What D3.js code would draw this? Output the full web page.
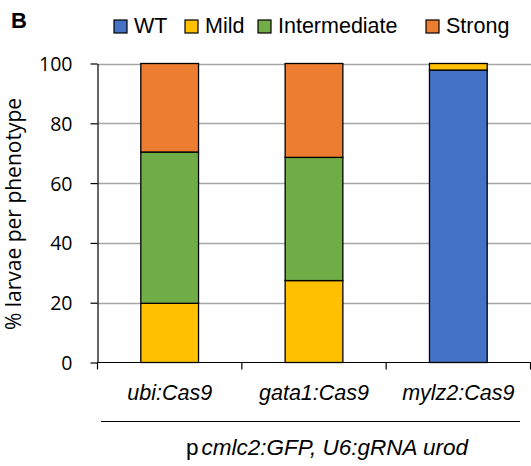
<!DOCTYPE html>
<html>
<head>
<meta charset="utf-8">
<script src="https://cdn.jsdelivr.net/npm/d3@7"></script>
<style>
body { margin: 0; background: #fff; }
svg { font-family: "Liberation Sans", Arial, sans-serif; }
</style>
</head>
<body>
<script>
let w = 531;
let h = 466;

const categories = ["ubi:Cas9", "gata1:Cas9", "mylz2:Cas9"];
const phenotypes = ["WT", "Mild", "Intermediate", "Strong"];
const colors = ["#4472c4", "#ffc000", "#70ad47", "#ed7d31"];
const wt = [0, 0, 97.8];
const mild = [19.8, 27.4, 2.2];
const intermediate = [50.6, 41.2, 0];
const strong = [29.6, 31.4, 0];
const yTicks = [0, 20, 40, 60, 80, 100];

let rows = categories.map((c, i) => ({
    cat: c, WT: wt[i], Mild: mild[i], Intermediate: intermediate[i], Strong: strong[i]
}));
let series = d3.stack().keys(phenotypes)(rows);

let svg = d3.select("body")
    .append("svg")
    .attr("width", w)
    .attr("height", h);

let x = d3.scaleBand()
    .domain(categories)
    .range([97.5, 530.5])
    .padding(0);
let y = d3.scaleLinear()
    .domain([0, 100])
    .range([362.5, 63.5]);
let color = d3.scaleOrdinal().domain(phenotypes).range(colors);

// grid lines
svg.append("g")
    .selectAll("line")
    .data(yTicks.filter(d => d > 0))
    .enter()
    .append("line")
    .attr("x1", 97.5)
    .attr("x2", 531)
    .attr("y1", d => Math.round(y(d)) + 0.5)
    .attr("y2", d => Math.round(y(d)) + 0.5)
    .attr("stroke", "#a6a6a6")
    .attr("stroke-width", 1.5);

// bars
let barW = x.bandwidth() * 0.4;
svg.append("g")
    .selectAll("g")
    .data(series)
    .enter()
    .append("g")
    .attr("fill", d => color(d.key))
    .selectAll("rect")
    .data(d => d.filter(s => s[1] - s[0] > 0))
    .enter()
    .append("rect")
    .attr("x", d => x(d.data.cat) + (x.bandwidth() - barW) / 2)
    .attr("y", d => y(d[1]))
    .attr("width", barW)
    .attr("height", d => y(d[0]) - y(d[1]))
    .attr("stroke", "#000")
    .attr("stroke-width", 1.3);

// y axis
let yAxis = svg.append("g")
    .attr("transform", "translate(97.5,0)")
    .call(d3.axisLeft(y).tickValues(yTicks).tickSize(7).tickSizeOuter(0));
yAxis.select(".domain").attr("stroke", "#000").attr("stroke-width", 1.2);
yAxis.selectAll(".tick line").attr("stroke", "#000").attr("stroke-width", 1.2);
yAxis.selectAll(".tick text")
    .attr("x", -25)
    .attr("dy", "0.36em")
    .attr("font-size", 19.5)
    .attr("font-family", "'Open Sans', sans-serif")
    .attr("fill", "#000");

// x axis
let xAxis = svg.append("g")
    .attr("transform", "translate(0,362.5)");
xAxis.append("line")
    .attr("x1", 97.5).attr("x2", 531)
    .attr("stroke", "#000").attr("stroke-width", 1.2);
xAxis.selectAll(".sep")
    .data(categories.concat(["end"]))
    .enter()
    .append("line")
    .attr("class", "sep")
    .attr("x1", (d, i) => i < 3 ? x(d) : x.range()[1])
    .attr("x2", (d, i) => i < 3 ? x(d) : x.range()[1])
    .attr("y1", 0).attr("y2", 7)
    .attr("stroke", "#000").attr("stroke-width", 1.2);
xAxis.selectAll(".lab")
    .data(categories)
    .enter()
    .append("text")
    .attr("class", "lab")
    .attr("x", d => x(d) + x.bandwidth() / 2)
    .attr("y", 37)
    .attr("text-anchor", "middle")
    .attr("font-size", 21.5)
    .attr("font-style", "italic")
    .text(d => d);

// group line and label
svg.append("line")
    .attr("x1", 101).attr("x2", 520)
    .attr("y1", 421.5).attr("y2", 421.5)
    .attr("stroke", "#000").attr("stroke-width", 1.2);
let grp = svg.append("text")
    .attr("x", 327)
    .attr("y", 455)
    .attr("text-anchor", "middle")
    .attr("font-size", 22.5);
grp.append("tspan").text("p");
grp.append("tspan").attr("dx", 3).attr("font-style", "italic").text("cmlc2:GFP, U6:gRNA urod");

// y title
svg.append("text")
    .attr("transform", "translate(21,214) rotate(-90)")
    .attr("text-anchor", "middle")
    .attr("font-size", 21)
    .attr("font-family", "'Open Sans', sans-serif")
    .text("% larvae per phenotype");

// panel letter
svg.append("text")
    .attr("x", 11).attr("y", 28)
    .attr("font-size", 22)
    .attr("font-weight", "bold")
    .text("B");

// legend
const legendX = [114, 185, 258, 426];
let leg = svg.append("g")
    .selectAll("g")
    .data(phenotypes)
    .enter()
    .append("g")
    .attr("transform", (d, i) => `translate(${legendX[i]},20)`);
leg.append("rect")
    .attr("width", 13).attr("height", 13)
    .attr("fill", d => color(d))
    .attr("stroke", "#000").attr("stroke-width", 1.2);
leg.append("text")
    .attr("x", 20).attr("y", 12.5)
    .attr("font-size", 21.5)
    .text(d => d);
</script>
</body>
</html>
